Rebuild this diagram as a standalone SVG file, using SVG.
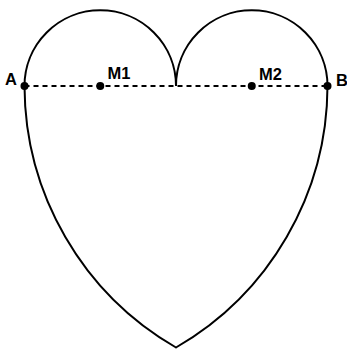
<svg xmlns="http://www.w3.org/2000/svg" width="347" height="349" viewBox="0 0 347 349">
<style>
.curve{fill:none;stroke:#000;stroke-width:2}
.dash{fill:none;stroke:#000;stroke-width:2;stroke-dasharray:5 4}
.pt{fill:#000}
.lbl{font-family:"Liberation Sans",Arial,sans-serif;font-weight:bold;font-size:16.5px;fill:#000}
</style>
<rect width="347" height="349" fill="#fff"/>
<g id="heart">
<path class="curve" d="M24.5,86 A75.75,75.75 0 0 1 176,86 A75.75,75.75 0 0 1 327.5,86 A303,303 0 0 1 176,347.5 A303,303 0 0 1 24.5,86 Z"/>
</g>
<g id="connectors">
<line class="dash" x1="24.5" y1="86" x2="327.5" y2="86"/>
</g>
<g id="A"><circle class="pt" cx="24.5" cy="86" r="4"/><text class="lbl" x="5" y="84.5">A</text></g>
<g id="M1"><circle class="pt" cx="100.25" cy="86" r="4"/><text class="lbl" x="107.5" y="79">M1</text></g>
<g id="M2"><circle class="pt" cx="251.75" cy="86" r="4"/><text class="lbl" x="259" y="80">M2</text></g>
<g id="B"><circle class="pt" cx="327.5" cy="86" r="4"/><text class="lbl" x="336" y="85.5">B</text></g>
</svg>
